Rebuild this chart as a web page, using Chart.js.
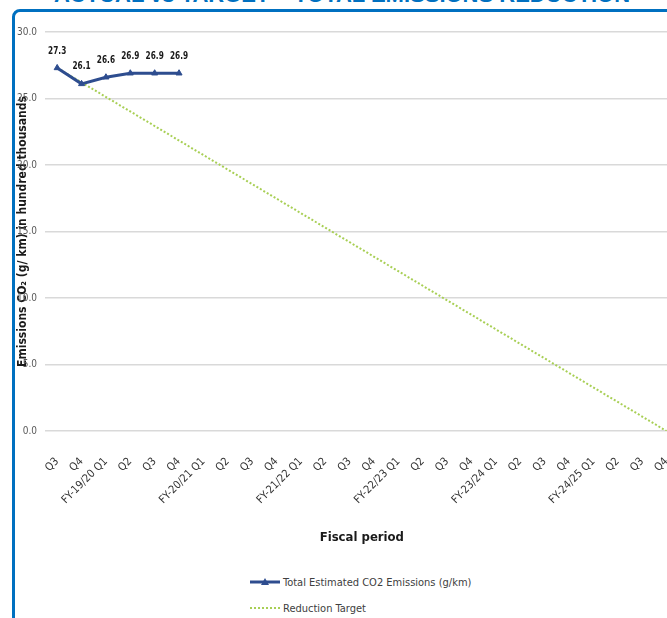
<!DOCTYPE html>
<html>
<head>
<meta charset="utf-8">
<script src="https://cdn.jsdelivr.net/npm/chart.js@4/dist/chart.umd.min.js"></script>
<style>
  html, body { margin:0; padding:0; width:667px; height:618px; overflow:hidden; background:#fff; }
  #title { position:absolute; left:0; width:684px; top:-18px; text-align:center;
           font:bold 22px 'Liberation Sans', Arial, sans-serif; color:#0070C0; white-space:nowrap; }
  #frame { position:absolute; left:12px; top:9px; width:800px; height:800px;
           border:3px solid #0070C0; border-radius:8px; box-sizing:border-box; }
  #wrap { position:absolute; left:0; top:0; width:700px; height:560px; }
  #legend { position:absolute; left:250px; top:569px; font:11px 'DejaVu Sans Condensed',sans-serif; color:#404040; }
  .li { height:26px; display:flex; align-items:center; }
  .li svg { margin-right:3px; }
</style>
</head>
<body>
<div id="title">ACTUAL vs TARGET – TOTAL EMISSIONS REDUCTION</div>
<div id="frame"></div>
<div id="wrap"><canvas id="c" width="700" height="560"></canvas></div>
<div id="legend"></div>
<script>
const categories = ["Q3","Q4","FY-19/20 Q1","Q2","Q3","Q4","FY-20/21 Q1","Q2","Q3","Q4",
  "FY-21/22 Q1","Q2","Q3","Q4","FY-22/23 Q1","Q2","Q3","Q4","FY-23/24 Q1","Q2","Q3","Q4",
  "FY-24/25 Q1","Q2","Q3","Q4"];
const actualEmissions = [27.3, 26.1, 26.6, 26.9, 26.9, 26.9];
const reductionTarget = [27.3, null, null, null, null, null, null, null, null, null,
  null, null, null, null, null, null, null, null, null, null, null, null, null, null, null, 0];
const yTicks = [0, 5, 10, 15, 20, 25, 30];
const seriesNames = ["Total Estimated CO2 Emissions (g/km)", "Reduction Target"];

const FONT = "'DejaVu Sans Condensed',sans-serif";
const BLUE = '#2E4D8F';
const GREEN = '#A8CF55';

const dataLabels = {
  id: 'dataLabels',
  afterDatasetsDraw(chart) {
    const ctx = chart.ctx;
    const meta = chart.getDatasetMeta(0);
    ctx.save();
    ctx.font = 'bold 10px ' + FONT;
    ctx.fillStyle = '#1a1a1a';
    ctx.textAlign = 'center';
    ctx.textBaseline = 'middle';
    meta.data.forEach((el, i) => {
      ctx.save();
      ctx.translate(el.x, el.y - 17);
      ctx.scale(0.82, 1);
      ctx.fillText(actualEmissions[i].toFixed(1), 0, 0);
      ctx.restore();
    });
    ctx.restore();
  }
};

const chart = new Chart(document.getElementById('c'), {
  type: 'line',
  data: {
    labels: categories,
    datasets: [
      { label: seriesNames[0], data: actualEmissions, borderColor: BLUE, backgroundColor: BLUE,
        borderWidth: 3, pointStyle: 'triangle', pointRadius: 3.5, pointBorderWidth: 1, tension: 0, order: 1 },
      { label: seriesNames[1], data: reductionTarget, borderColor: GREEN, borderWidth: 2,
        borderDash: [2, 2], pointRadius: 0, spanGaps: true, tension: 0, order: 2 }
    ]
  },
  options: {
    responsive: false,
    animation: false,
    layout: { padding: { left: 12, top: 32, right: 11, bottom: 0 } },
    plugins: { legend: { display: false }, tooltip: { enabled: false } },
    scales: {
      x: {
        offset: true,
        grid: { display: false, drawTicks: false },
        border: { display: false },
        ticks: { autoSkip: false, maxRotation: 45, minRotation: 45, padding: 24,
                 color: '#333333', font: { family: FONT, size: 11 } },
        title: { display: true, text: 'Fiscal period', color: '#1a1a1a',
                 font: { family: FONT, size: 13, weight: 'bold' }, padding: { top: 0, bottom: 15 } },
        afterFit(s) { s.height = 129; }
      },
      y: {
        min: 0, max: 30,
        afterBuildTicks(s) { s.ticks = yTicks.map(v => ({ value: v })); },
        grid: { color: '#D9D9D9', lineWidth: 1.5, drawTicks: false },
        border: { display: false },
        ticks: { padding: 8, color: '#595959', font: { family: FONT, size: 10 },
                 callback: v => Number(v).toFixed(1) },
        title: { display: true, text: 'Emissions CO₂ (g/ km) in hundred thousands', color: '#1a1a1a',
                 font: { family: FONT, size: 12, weight: 'bold' }, padding: { top: 4, bottom: 0 } },
        afterFit(s) { s.width = 33; }
      }
    }
  },
  plugins: [dataLabels]
});

// HTML legend built from the chart datasets
const lg = document.getElementById('legend');
chart.data.datasets.forEach((ds, i) => {
  const row = document.createElement('div');
  row.className = 'li';
  const svg = i === 0
    ? `<svg width="30" height="10"><line x1="0" y1="5" x2="30" y2="5" stroke="${ds.borderColor}" stroke-width="3"/><polygon points="15,1 19,8 11,8" fill="${ds.borderColor}"/></svg>`
    : `<svg width="30" height="10"><line x1="0" y1="5" x2="30" y2="5" stroke="${ds.borderColor}" stroke-width="2" stroke-dasharray="2,2"/></svg>`;
  row.innerHTML = svg + '<span>' + ds.label + '</span>';
  lg.appendChild(row);
});
</script>
</body>
</html>
